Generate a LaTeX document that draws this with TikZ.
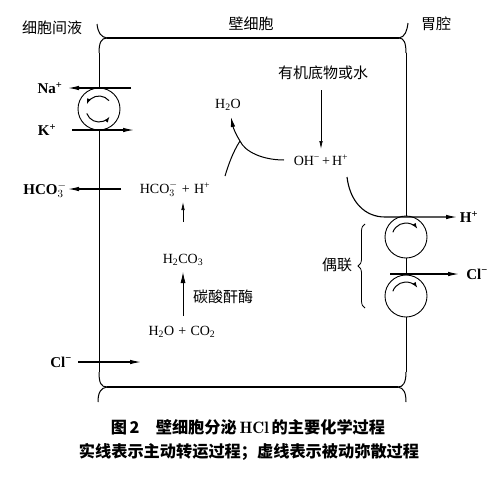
\documentclass[tikz,border=0pt]{standalone}
\usepackage{fontspec}
\setmainfont{Liberation Serif}
\newfontfamily\cjk{Noto Sans CJK SC}
\usetikzlibrary{arrows.meta,decorations.pathreplacing}
\newcommand\hcoion{HCO$_{3}^{-}$}
\newcommand\subt[1]{\textsubscript{#1}}
\newcommand\supt[1]{\textsuperscript{#1}}
\newcommand\pl{\hspace{0.3em}+\hspace{0.3em}}
\begin{document}
\begin{tikzpicture}[x=1pt,y=-1pt,
  mem/.style={line width=1pt},
  ionarrow/.style={-{Latex[length=11pt,width=4.5pt]}, line width=1.1pt},
  thinarrow/.style={-{Latex[length=8pt,width=3.5pt]}, line width=0.7pt},
  pump/.style={draw, circle, minimum size=42pt, inner sep=0pt, line width=0.9pt},
  turn/.style={-{Latex[length=6pt,width=4pt]}, line width=1pt},
  lab/.style={font=\fontsize{14}{16}\selectfont, inner sep=1pt},
  blab/.style={font=\fontsize{15}{17}\selectfont\bfseries, inner sep=1pt},
  cj/.style={font=\cjk\fontsize{15}{17}\selectfont, inner sep=1pt},
  captext/.style={font=\cjk\bfseries\fontsize{16.2}{18}\selectfont, inner sep=1pt}]
\useasboundingbox (0,0) rectangle (500,485);

% region labels
\node[cj] (ecf) at (52,28) {细胞间液};
\node[cj] (cell) at (251,24) {壁细胞};
\node[cj] (lumen) at (436,24) {胃腔};

% pumps
\node[pump] (nak) at (99,109) {};
\node[pump] (hpump) at (406,237) {};
\node[pump] (clpump) at (406,296) {};

% membrane coordinates
\coordinate (tl) at (107,38);
\coordinate (tr) at (399,38);
\coordinate (bl) at (107,387);
\coordinate (br) at (398,387);

% top and bottom edges
\draw[mem, line width=1.2pt] (tl) -- (tr);
\draw[mem, line width=1.2pt] (bl) -- (br);
% corners with brace hooks
\draw[mem] (99,53) .. controls (99,43) and (101,38) .. (tl);
\draw[mem] (tl) .. controls (101,37) and (98,33) .. (97,24);
\draw[mem] (tr) .. controls (404,38) and (406,43) .. (406,53);
\draw[mem] (tr) .. controls (405,37) and (407,31) .. (408,23);
\draw[mem] (99,372) .. controls (99,383) and (101,387) .. (bl);
\draw[mem] (bl) .. controls (101,388) and (98,392) .. (98,402);
\draw[mem] (406,372) .. controls (406,383) and (403,387) .. (br);
\draw[mem] (br) .. controls (404,388) and (406,393) .. (406,402);
% side membranes
\draw[mem] (99,53) -- (nak.north);
\draw[mem] (nak.south) -- (99,372);
\draw[mem] (406,53) -- (hpump.north);
\draw[mem] (hpump.south) -- (clpump.north);
\draw[mem] (clpump.south) -- (406,372);

% rotation arrows inside pumps
\draw[turn] ([shift={(-40:13)}]nak.center) arc[start angle=-40, end angle=-160, radius=13];
\draw[turn] ([shift={(160:13)}]nak.center) arc[start angle=160, end angle=35, radius=13];
\draw[turn] ([shift={(-160:14)}]hpump.center) arc[start angle=-160, end angle=-35, radius=14];
\draw[turn] ([shift={(-160:14)}]clpump.center) arc[start angle=-160, end angle=-35, radius=14];

% Na / K
\node[blab] (na) at (50,88) {Na\supt{+}};
\node[blab] (k) at (47,130) {K\supt{+}};
\coordinate (naS) at (131,88);
\coordinate (naE) at (68,88);
\coordinate (kS) at (72,130);
\coordinate (kE) at (134,130);
\draw[ionarrow] (naS) -- (naE);
\draw[ionarrow] (kS) -- (kE);

% HCO3
\node[blab] (hcoout) at (45,190) {\hcoion};
\node[lab] (hcoin) at (175,189) {\hcoion\pl H\supt{+}};
\coordinate (hcS) at (121,189);
\coordinate (hcE) at (68,189);
\draw[ionarrow] (hcS) -- (hcE);

% carbonic acid chain
\node[lab] (hco3) at (183,260) {H\subt{2}CO\subt{3}};
\node[lab] (h2oco2) at (182,332) {H\subt{2}O\pl CO\subt{2}};
\node[cj] (ca) at (223,297) {碳酸酐酶};
\coordinate (a1s) at (183,222);
\coordinate (a1e) at (183,202);
\draw[thinarrow] (a1s) -- (a1e);
\coordinate (a2s) at (183,316);
\coordinate (a2e) at (183,272);
\draw[-{Latex[length=11pt,width=5pt]}, line width=0.8pt] (a2s) -- (a2e);

% water formation
\node[lab] (h2o) at (228,105) {H\subt{2}O};
\node[lab] (ohh) at (321,160) {OH\supt{−}\hspace{0.15em}+\hspace{0.15em}H\supt{+}};
\node[cj] (org) at (323,73) {有机底物或水};
\coordinate (a3s) at (321,90);
\coordinate (a3e) at (321,149);
\draw[thinarrow] (a3s) -- (a3e);
\coordinate (join) at (240,141);
\coordinate (h2oin) at (231,117);
\draw[-{Latex[length=10pt,width=4.5pt]}, line width=1pt] (284,160) .. controls (263,160) and (245,152) .. (join) .. controls (236,135) and (233,127) .. (h2oin);
\draw[line width=1pt] (225,176) .. controls (229,163) and (233,152) .. (join);

% H+ out
\node[blab] (hout) at (469,217) {H\supt{+}};
\coordinate (hE) at (457,217);
\draw[ionarrow] (347,177) .. controls (350,202) and (365,217) .. (385,217) -- (hE);

% Cl-
\node[blab] (clout) at (477,274) {Cl\supt{−}};
\coordinate (clS) at (390,274);
\coordinate (clE) at (459,274);
\draw[ionarrow] (clS) -- (clE);
\node[blab] (clin) at (61,362) {Cl\supt{−}};
\coordinate (clinS) at (78,362);
\coordinate (clinE) at (141,362);
\draw[ionarrow] (clinS) -- (clinE);

% coupling brace
\node[cj] (cpl) at (337,265) {偶联};
\draw[line width=0.8pt, decorate, decoration={brace, amplitude=7pt}] (365,308) -- (365,224);

% caption
\node[captext] (cap1) at (248,427) {图\,2\quad 壁细胞分泌{\fontfamily{lmr}\bfseries\fontsize{16.5}{18}\selectfont\,HCl\,}的主要化学过程};
\node[captext] (cap2) at (249,452) {实线表示主动转运过程；虚线表示被动弥散过程};
\end{tikzpicture}
\end{document}
